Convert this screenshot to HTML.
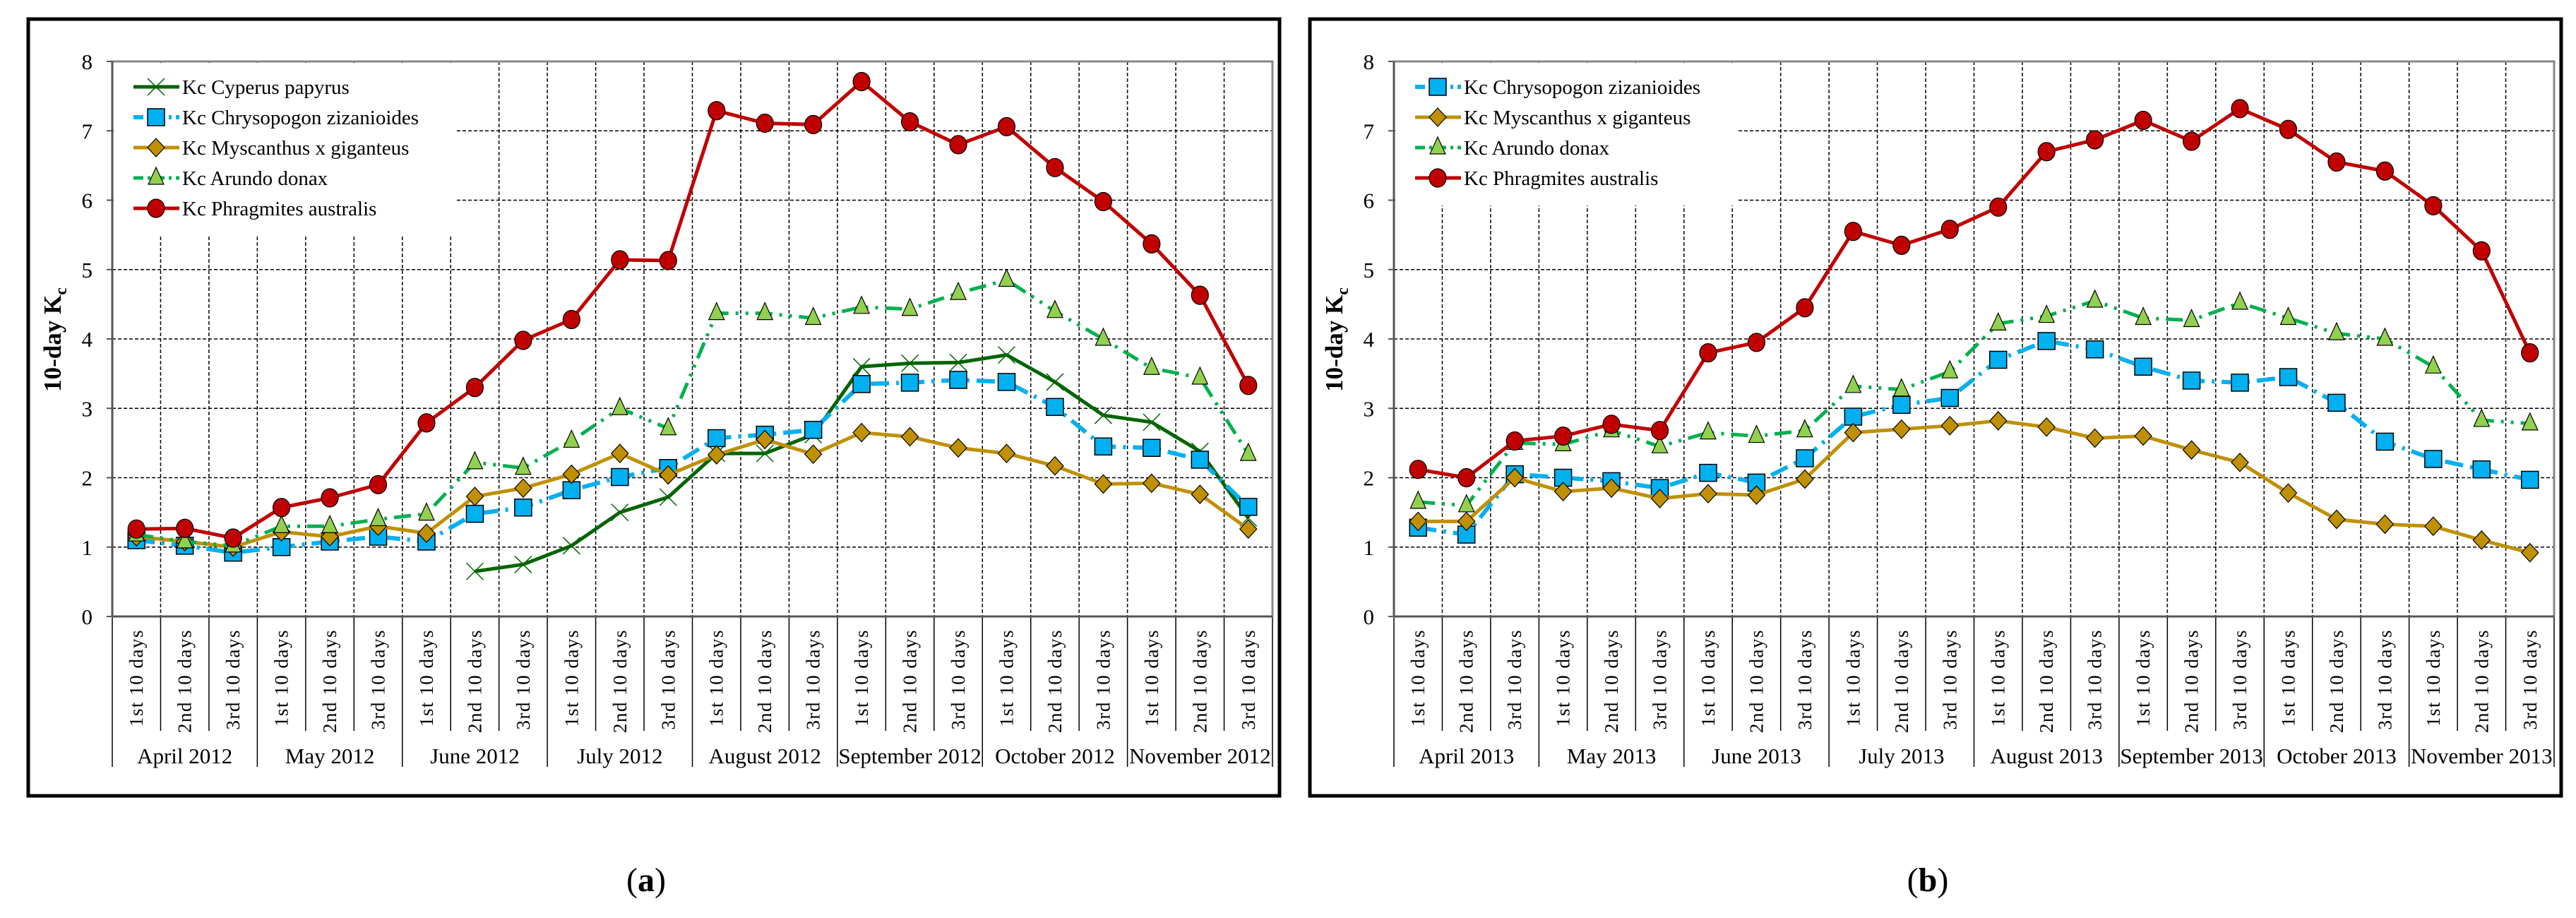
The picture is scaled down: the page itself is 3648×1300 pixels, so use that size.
<!DOCTYPE html>
<html><head><meta charset="utf-8"><style>
html,body{margin:0;padding:0;background:#fff;}
svg{display:block;font-family:"Liberation Serif",serif;}
</style></head><body>
<svg id="fig" width="3648" height="1300" viewBox="0 0 3648 1300" xmlns="http://www.w3.org/2000/svg"></svg>
<script>
const months2012 = ["April 2012","May 2012","June 2012","July 2012","August 2012","September 2012","October 2012","November 2012"];
const months2013 = ["April 2013","May 2013","June 2013","July 2013","August 2013","September 2013","October 2013","November 2013"];
const decades = ["1st 10 days","2nd 10 days","3rd 10 days"];
const yTicks = [0,1,2,3,4,5,6,7,8];
const cyperusA = [null,null,null,null,null,null,null,0.65,0.75,1.02,1.5,1.72,2.35,2.35,2.62,3.6,3.65,3.66,3.77,3.38,2.9,2.8,2.38,1.42];
const chrysoA = [1.1,1.02,0.92,1.0,1.08,1.15,1.08,1.48,1.57,1.82,2.01,2.14,2.57,2.62,2.69,3.35,3.37,3.41,3.38,3.02,2.45,2.43,2.26,1.58];
const myscA = [1.15,1.08,1.0,1.22,1.15,1.3,1.2,1.73,1.85,2.05,2.35,2.04,2.33,2.55,2.34,2.65,2.59,2.43,2.35,2.17,1.91,1.92,1.76,1.26];
const arundoA = [1.18,1.08,1.02,1.3,1.3,1.4,1.48,2.22,2.14,2.53,3.0,2.71,4.37,4.37,4.3,4.46,4.43,4.66,4.85,4.4,4.0,3.58,3.44,2.34];
const phragA = [1.26,1.27,1.13,1.57,1.71,1.9,2.79,3.3,3.98,4.28,5.14,5.13,7.29,7.11,7.09,7.71,7.13,6.8,7.06,6.47,5.98,5.37,4.63,3.33];
const chrysoB = [1.28,1.18,2.05,2.0,1.95,1.85,2.07,1.93,2.28,2.88,3.05,3.15,3.7,3.97,3.85,3.6,3.4,3.37,3.45,3.08,2.52,2.27,2.12,1.97];
const myscB = [1.37,1.37,2.0,1.8,1.85,1.7,1.77,1.75,1.98,2.65,2.7,2.75,2.82,2.73,2.57,2.6,2.4,2.22,1.78,1.4,1.33,1.3,1.1,0.92];
const arundoB = [1.65,1.6,2.5,2.48,2.68,2.45,2.65,2.6,2.68,3.32,3.27,3.53,4.22,4.33,4.55,4.3,4.27,4.52,4.3,4.08,4.0,3.6,2.83,2.78];
const phragB = [2.12,2.0,2.53,2.6,2.77,2.68,3.8,3.95,4.45,5.55,5.35,5.58,5.9,6.7,6.87,7.15,6.85,7.32,7.02,6.55,6.42,5.92,5.27,3.8];

const NS="http://www.w3.org/2000/svg";
const svg=document.getElementById('fig');
function mk(tag,attrs,parent){const e=document.createElementNS(NS,tag);for(const k in attrs)e.setAttribute(k,attrs[k]);(parent||svg).appendChild(e);return e;}

const STY={
 cyperus:{name:"Kc Cyperus papyrus",color:"#006400",w:5,dash:"",marker:"x"},
 chryso:{name:"Kc Chrysopogon zizanioides",color:"#00b0f0",w:6,dash:"26 10 4 10",marker:"square"},
 mysc:{name:"Kc Myscanthus x giganteus",color:"#bf9000",w:5,dash:"",marker:"diamond"},
 arundo:{name:"Kc Arundo donax",color:"#00b050",w:5,dash:"24 10 4 10 4 10",marker:"tri"},
 phrag:{name:"Kc Phragmites australis",color:"#c00000",w:5,dash:"",marker:"circle"}
};

function marker(g,type,x,y){
 let m;
 if(type==="square") m=mk('rect',{x:x-12,y:y-12,width:24,height:24,fill:"#00b0f0",stroke:"#000","stroke-width":1.5},g);
 else if(type==="diamond") m=mk('polygon',{points:`${x},${y-13} ${x+12},${y} ${x},${y+13} ${x-12},${y}`,fill:"#bf9000",stroke:"#000","stroke-width":1.2},g);
 else if(type==="tri") m=mk('polygon',{points:`${x},${y-15} ${x+11},${y+9} ${x-11},${y+9}`,fill:"#92d050",stroke:"#000","stroke-width":1.2},g);
 else if(type==="circle") m=mk('ellipse',{cx:x,cy:y,rx:12,ry:13,fill:"#c00000",stroke:"#000","stroke-width":1.2},g);
 else { m=mk('path',{d:`M${x-12} ${y-12}L${x+12} ${y+12}M${x-12} ${y+12}L${x+12} ${y-12}`,stroke:"#006400","stroke-width":1.5,fill:"none"},g); }
 return m;
}

function panel(off,months,series,label,pid){
 const L=159+off,R=1802+off,T=87,B=873;
 const n=months.length*3, cw=(R-L)/n;
 const xs=i=>L+cw*(i+0.5);
 const ys=v=>B-(v/8)*(B-T);
 const g=mk('g',{});  
 const fr=mk('rect',{x:40+off,y:27,width:1772,height:1100,fill:"none",stroke:"#000","stroke-width":5},g);
  
 // grid
 yTicks.forEach(t=>{
  if(t>0&&t<8){const l=mk('line',{x1:L,x2:R,y1:ys(t),y2:ys(t),stroke:"#000","stroke-width":1.5,"stroke-dasharray":"5 3"},g);
    }
  mk('line',{x1:L-8,x2:L,y1:ys(t),y2:ys(t),stroke:"#555","stroke-width":2},g);
  const tx=mk('text',{x:L-28,y:ys(t)+11,"font-size":31,"text-anchor":"end",fill:"#000"},g);
  tx.textContent=t;  
 });
 for(let i=1;i<n;i++){
  const x=L+cw*i;
  const l=mk('line',{x1:x,x2:x,y1:T,y2:B,stroke:"#000","stroke-width":1.5,"stroke-dasharray":"5 3"},g);
   
  mk('line',{x1:x,x2:x,y1:B,y2:(i%3===0)?1086:1035,stroke:"#000","stroke-width":1.5},g);
 }
 mk('line',{x1:L,x2:L,y1:B,y2:1086,stroke:"#000","stroke-width":1.5},g);
 mk('line',{x1:R,x2:R,y1:B,y2:1086,stroke:"#000","stroke-width":1.5},g);
 mk('rect',{x:L,y:T,width:R-L,height:B-T,fill:"none",stroke:"#888","stroke-width":3},g);
 mk('line',{x1:L,x2:R,y1:B,y2:B,stroke:"#555","stroke-width":3},g);
 mk('line',{x1:L,x2:L,y1:T,y2:B,stroke:"#555","stroke-width":3},g);
 // x labels
 for(let i=0;i<n;i++){
  const x=xs(i)+9;
  const t=mk('text',{x:x,y:891,"font-size":27,"letter-spacing":1.5,"text-anchor":"end",transform:`rotate(-90 ${x} 891)`},g);
  t.textContent=decades[i%3];  
 }
 months.forEach((m,j)=>{
  const t=mk('text',{x:L+cw*(3*j+1.5),y:1081,"font-size":31,"text-anchor":"middle"},g);
  t.textContent=m;  
 });
 const yt=mk('text',{x:0,y:0,"font-size":35,"font-weight":"bold","text-anchor":"middle",transform:`translate(${86+off} 481) rotate(-90)`},g);
 yt.innerHTML='10-day K<tspan font-size="24" dy="8">c</tspan>';
  
 // legend background
 const lb=mk('rect',{x:L+2,y:T+2,width:485,height:series.length*43+30,fill:"#fff"},g);
  
 // series
 series.forEach(([key,vals])=>{
  const s=STY[key];
  const sg=mk('g',{},g);  
  let d="",pen=false;
  vals.forEach((v,i)=>{ if(v==null){pen=false;return;} d+=(pen?"L":"M")+xs(i)+" "+ys(v); pen=true;});
  const p=mk('path',{d:d,fill:"none",stroke:s.color,"stroke-width":s.w,"stroke-linejoin":"round","stroke-dasharray":s.dash},sg);
   
  vals.forEach((v,i)=>{ if(v==null)return; const m=marker(sg,s.marker,xs(i),ys(v));
    });
 });
 // legend entries
 series.forEach(([key],k)=>{
  const s=STY[key]; const y=123+k*43;
  const eg=mk('g',{},g);  
  mk('line',{x1:189+off,x2:254+off,y1:y,y2:y,stroke:s.color,"stroke-width":s.w,"stroke-dasharray":s.dash?"14 6 4 6":""},eg);
  marker(eg,s.marker,221+off,y);
  const t=mk('text',{x:258+off,y:y+10,"font-size":29},eg); t.textContent=s.name;
 });
 const cap=mk('text',{x:915+off,y:1262,"font-size":48,"text-anchor":"middle"},g);
 cap.innerHTML='(<tspan font-weight="bold">'+label+'</tspan>)';
  
}
panel(0,months2012,[["cyperus",cyperusA],["chryso",chrysoA],["mysc",myscA],["arundo",arundoA],["phrag",phragA]],"a","panel-a");
panel(1815,months2013,[["chryso",chrysoB],["mysc",myscB],["arundo",arundoB],["phrag",phragB]],"b","panel-b");
</script>
</body></html>
